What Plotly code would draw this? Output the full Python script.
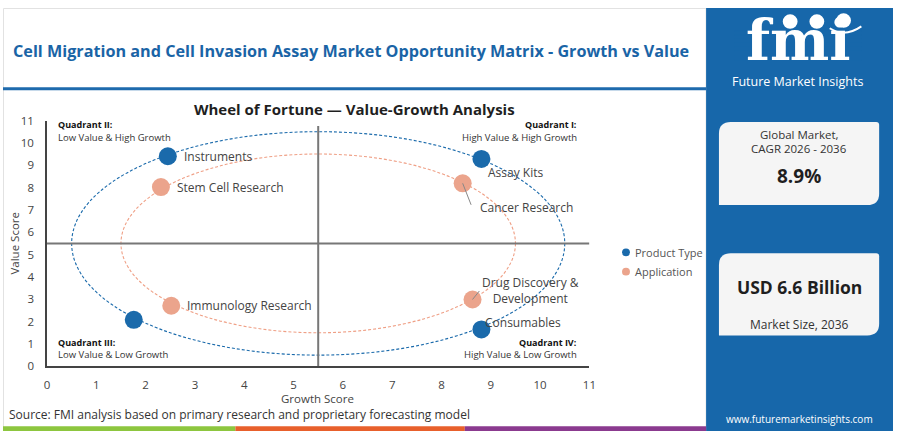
import plotly.graph_objects as go

# ---------------- data ----------------
product_labels = ["Instruments", "Assay Kits", "Consumables", ""]
product_growth = [2.45, 8.81, 8.81, 1.76]
product_value = [9.40, 9.28, 1.65, 2.08]

app_labels = ["Stem Cell Research", "Cancer Research", "Drug Discovery &<br>Development", "Immunology Research"]
app_growth = [2.31, 8.43, 8.63, 2.52]
app_value = [8.02, 8.19, 2.99, 2.71]

axis_ticks = list(range(0, 12))
axis_max = 11
center = 5.5
ring_radius = {"Product Type": 5.0, "Application": 4.0}

quadrants = [
    ("Quadrant II:", "Low Value & High Growth", "left", "top"),
    ("Quadrant I:", "High Value & High Growth", "right", "top"),
    ("Quadrant III:", "Low Value & Low Growth", "left", "bottom"),
    ("Quadrant IV:", "High Value & Low Growth", "right", "bottom"),
]

cagr_text = "8.9%"
size_text = "USD 6.6 Billion"

# ---------------- style ----------------
W, H = 900, 438
BLUE = "#1a6aab"
ORANGE = "#eba48c"
PANEL = "#1767aa"
FONT = "Open Sans"

def px(x):
    return x / W

def py(y):
    return 1 - y / H

PLOT_L, PLOT_R, PLOT_T, PLOT_B = 44.5, 593, 116.5, 371

fig = go.Figure()

fig.add_trace(go.Scatter(
    x=product_growth, y=product_value, mode="markers", name="Product Type",
    marker=dict(size=18, color=BLUE), cliponaxis=False, showlegend=False,
    hovertext=product_labels,
))
fig.add_trace(go.Scatter(
    x=app_growth, y=app_value, mode="markers", name="Application",
    marker=dict(size=18, color=ORANGE), cliponaxis=False, showlegend=False,
    hovertext=app_labels,
))

shapes = []
annotations = []

# rings
for key, col, dash in [("Product Type", BLUE, "3px,2px"), ("Application", "#ef9f85", "3px,2px")]:
    r = ring_radius[key]
    shapes.append(dict(type="circle", xref="x", yref="y", x0=center - r, x1=center + r,
                       y0=center - r, y1=center + r, line=dict(color=col, width=1.1, dash=dash),
                       layer="below"))

# quadrant lines
shapes.append(dict(type="line", xref="x", yref="y", x0=0, x1=axis_max, y0=center, y1=center,
                   line=dict(color="#777777", width=2), layer="below"))
shapes.append(dict(type="line", xref="x", yref="y", x0=center, x1=center, y0=0, y1=axis_max - 0.25,
                   line=dict(color="#777777", width=2), layer="below"))

# left panel border
shapes.append(dict(type="rect", xref="paper", yref="paper", x0=px(0.5), x1=px(711), y0=py(437.5), y1=py(0.5),
                   line=dict(color="#e2e2e2", width=1), layer="below"))
# header underline
shapes.append(dict(type="line", xref="paper", yref="paper", x0=0, x1=px(711), y0=py(83.5), y1=py(83.5),
                   line=dict(color="#1e6aad", width=3)))
# bottom color bar
for x0, x1, c in [(0, 235, "#8dc63f"), (235, 467, "#e8602c"), (467, 711, "#8b3a8f")]:
    shapes.append(dict(type="rect", xref="paper", yref="paper", x0=px(x0), x1=px(x1), y0=py(438), y1=py(433),
                       line=dict(width=0), fillcolor=c))
# right panel
shapes.append(dict(type="rect", xref="paper", yref="paper", x0=px(711), x1=1, y0=0, y1=1,
                   line=dict(width=0), fillcolor=PANEL, layer="below"))


def card_path(x0, y0, x1, y1, rb, rs):
    def P(x, y):
        return f"{px(x):.5f},{py(y):.5f}"
    d = f"M {P(x0 + rb, y0)} L {P(x1 - rs, y0)} Q {P(x1, y0)} {P(x1, y0 + rs)} "
    d += f"L {P(x1, y1 - rb)} Q {P(x1, y1)} {P(x1 - rb, y1)} "
    d += f"L {P(x0, y1)} L {P(x0, y0 + rb)} Q {P(x0, y0)} {P(x0 + rb, y0)} Z"
    return d

for (y0, y1) in [(118, 204), (254, 339)]:
    shapes.append(dict(type="path", xref="paper", yref="paper", path=card_path(724, y0, 886, y1, 12, 3),
                       fillcolor="#f5f5f5", line=dict(width=0)))

# ---------- annotations ----------
def txt(x, y, text, size, color="#333333", bold=False, xanchor="center", yanchor="middle", font=FONT, **kw):
    if bold:
        text = f"<b>{text}</b>"
    annotations.append(dict(xref="paper", yref="paper", x=px(x), y=py(y), text=text, showarrow=False,
                            xanchor=xanchor, yanchor=yanchor,
                            font=dict(family=font, size=size, color=color), **kw))

txt(8, 45, "Cell Migration and Cell Invasion Assay Market Opportunity Matrix - Growth vs Value", 16.2,
    color="#1a64a6", bold=True, xanchor="left")
txt(355.5, 105, "Wheel of Fortune — Value-Growth Analysis", 15, color="#1f1f1f", bold=True)
txt(318, 404, "Growth Score", 11.5, color="#444444")
txt(12, 243, "Value Score", 11.5, color="#444444", textangle=-90)
txt(4, 421, "Source: FMI analysis based on primary research and proprietary forecasting model", 12,
    color="#333333", xanchor="left")

# quadrant labels
for head, sub, side, vert in quadrants:
    xx = 54 if side == "left" else 582
    y1, y2 = (121, 134) if vert == "top" else (346, 359)
    txt(xx, y1, head, 9, color="#111111", bold=True, xanchor=side)
    txt(xx, y2, sub, 9.5, color="#333333", xanchor=side)

# point labels (offsets in pixels)
label_style = dict(family=FONT, size=12, color="#444444")
offsets_prod = [(14, 0, "left"), (34, -14, "center"), (42, 7, "center"), (0, 0, "left")]
offsets_app = [(14, 0, "left"), (15, -24, "left"), (58, 9, "center"), (14, 0, "left")]
for labels, gx, vy, offs in [(product_labels, product_growth, product_value, offsets_prod),
                             (app_labels, app_growth, app_value, offsets_app)]:
    for lab, g, v, (dx, dy, xa) in zip(labels, gx, vy, offs):
        if not lab:
            continue
        annotations.append(dict(xref="x", yref="y", x=g, y=v, text=lab, showarrow=False,
                                xanchor=xa, yanchor="middle", xshift=dx, yshift=dy,
                                font=label_style, align="center"))

# leader lines
for g, v, ax, ay in [(app_growth[1], app_value[1], 9, 23), (app_growth[2], app_value[2], 8, -10)]:
    annotations.append(dict(xref="x", yref="y", x=g, y=v, text="", showarrow=True, arrowhead=0,
                            arrowwidth=1, arrowcolor="#888888", ax=ax, ay=ay, standoff=0))

# legend (manual)
for yy, name, col in [(253, "Product Type", BLUE), (273, "Application", ORANGE)]:
    shapes.append(dict(type="circle", xref="paper", yref="paper", x0=px(626), x1=px(634),
                       y0=py(yy + 4), y1=py(yy - 4), fillcolor=col, line=dict(width=0)))
    txt(637, yy, name, 11, color="#555555", xanchor="left")

# right panel text
txt(805, 131, "Global Market,", 11.5, color="#333333")
txt(805, 146, "CAGR 2026 - 2036", 11.5, color="#333333")
txt(805, 174, cagr_text, 19, color="#1f1f1f", bold=True)
txt(805, 289, size_text, 17.5, color="#1f1f1f", bold=True)
txt(805, 328, "Market Size, 2036", 12, color="#333333")
txt(805, 426, "www.futuremarketinsights.com", 10, color="white")
txt(803, 76, "Future Market Insights", 12.5, color="white")
txt(804, 33, "fmi", 56, color="white", bold=True, font="DejaVu Serif")

# logo stripes
for i in range(8):
    yy = 24 + i * 4.2
    shapes.append(dict(type="line", xref="paper", yref="paper", x0=px(740), x1=px(868),
                       y0=py(yy), y1=py(yy), line=dict(color=PANEL, width=1.2)))
# logo icons
for cx, cy in [(796, 14), (823, 14), (850, 13)]:
    shapes.append(dict(type="circle", xref="paper", yref="paper", x0=px(cx - 7.5), x1=px(cx + 7.5),
                       y0=py(cy + 7.5), y1=py(cy - 7.5), fillcolor="white", line=dict(width=0)))
shapes.append(dict(type="path", xref="paper", yref="paper",
                   path=f"M {px(836):.5f},{py(21):.5f} Q {px(851):.5f},{py(31):.5f} {px(868):.5f},{py(19):.5f}",
                   line=dict(color="white", width=2)))

fig.update_layout(
    autosize=True, margin=dict(l=0, r=0, t=0, b=0),
    paper_bgcolor="white", plot_bgcolor="white",
    showlegend=False,
    xaxis=dict(domain=[px(PLOT_L), px(PLOT_R)], range=[0, axis_max], tickvals=axis_ticks,
               showgrid=False, zeroline=False, showline=True, linecolor="#444444", linewidth=1.5,
               ticks="outside", ticklen=7, tickcolor="rgba(0,0,0,0)",
               tickfont=dict(family=FONT, size=11.5, color="#444444")),
    yaxis=dict(domain=[py(PLOT_B), py(PLOT_T)], range=[0, axis_max], tickvals=axis_ticks,
               showgrid=False, zeroline=False, showline=True, linecolor="#444444", linewidth=1.5,
               ticks="outside", ticklen=9, tickcolor="rgba(0,0,0,0)",
               tickfont=dict(family=FONT, size=11.5, color="#444444")),
    shapes=shapes, annotations=annotations,
)

post = (
    "document.documentElement.style.margin='0';document.documentElement.style.overflow='hidden';"
    "document.body.style.margin='0';document.body.style.padding='0';document.body.style.overflow='hidden';"
    "var gd=document.querySelector('.plotly-graph-div');"
    "if(gd){gd.style.position='fixed';gd.style.left='0px';gd.style.top='0px';"
    "gd.style.width='100vw';gd.style.height='100vh';Plotly.Plots.resize(gd);}"
)
fig.write_html("out.html", config={"displayModeBar": False, "responsive": True},
               default_width="100vw", default_height="100vh", post_script=post)
